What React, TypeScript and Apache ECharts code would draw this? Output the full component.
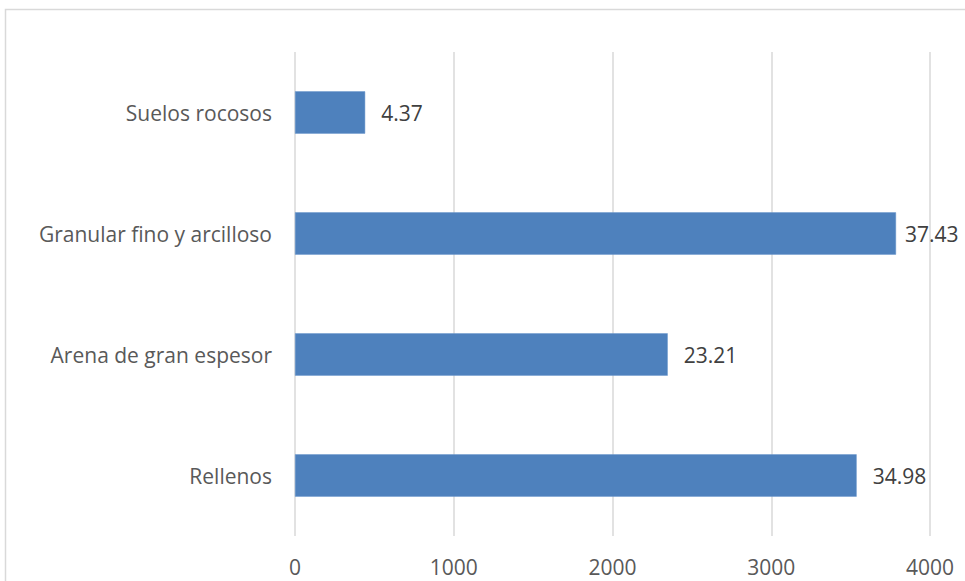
import React, { useEffect, useRef } from "react";
import * as echarts from "echarts";

const categories = ["Rellenos", "Arena de gran espesor", "Granular fino y arcilloso", "Suelos rocosos"];
const values = [3538, 2348, 3786, 442];
const percentLabels = ["34.98", "23.21", "37.43", "4.37"];
const xTicks = [0, 1000, 2000, 3000, 4000];

export default function App() {
  const ref = useRef<HTMLDivElement>(null);
  useEffect(() => {
    if (!ref.current) return;
    const chart = echarts.init(ref.current, null, { renderer: "svg" });
    const font = "'Open Sans', sans-serif";
    const maxVal = Math.max(...values);
    chart.setOption({
      animation: false,
      backgroundColor: "#ffffff",
      graphic: [
        {
          type: "rect",
          shape: { x: 5.5, y: 9.5, width: 1000, height: 700 },
          style: { fill: "none", stroke: "#d9d9d9", lineWidth: 1.5 },
          silent: true,
        },
      ],
      grid: { left: 295, right: 35, top: 52, bottom: 45, containLabel: false },
      xAxis: {
        type: "value",
        min: xTicks[0],
        max: xTicks[xTicks.length - 1],
        interval: 1000,
        axisLine: { show: false },
        axisTick: { show: false },
        splitLine: { show: true, lineStyle: { color: "#d9d9d9", width: 1.5 } },
        axisLabel: {
          color: "#595959",
          fontSize: 21,
          fontFamily: font,
          margin: 20,
          formatter: (v: number) => String(v),
        },
      },
      yAxis: {
        type: "category",
        data: categories,
        axisLine: { show: false },
        axisTick: { show: false },
        axisLabel: { color: "#595959", fontSize: 21, fontFamily: font, margin: 23 },
      },
      series: [
        {
          type: "bar",
          data: values.map((v) =>
            v === maxVal ? { value: v, label: { distance: 9 } } : v
          ),
          barWidth: "35%",
          itemStyle: { color: "#4e81bd", borderColor: "#6a96cc", borderWidth: 0.5 },
          label: {
            show: true,
            position: "right",
            distance: 16,
            color: "#404040",
            fontSize: 21,
            fontFamily: font,
            formatter: (p: any) => percentLabels[p.dataIndex],
          },
        },
      ],
    });
    return () => chart.dispose();
  }, []);
  return (
    <div
      ref={ref}
      style={{ position: "absolute", left: 0, top: 0, width: 965, height: 581 }}
    />
  );
}
